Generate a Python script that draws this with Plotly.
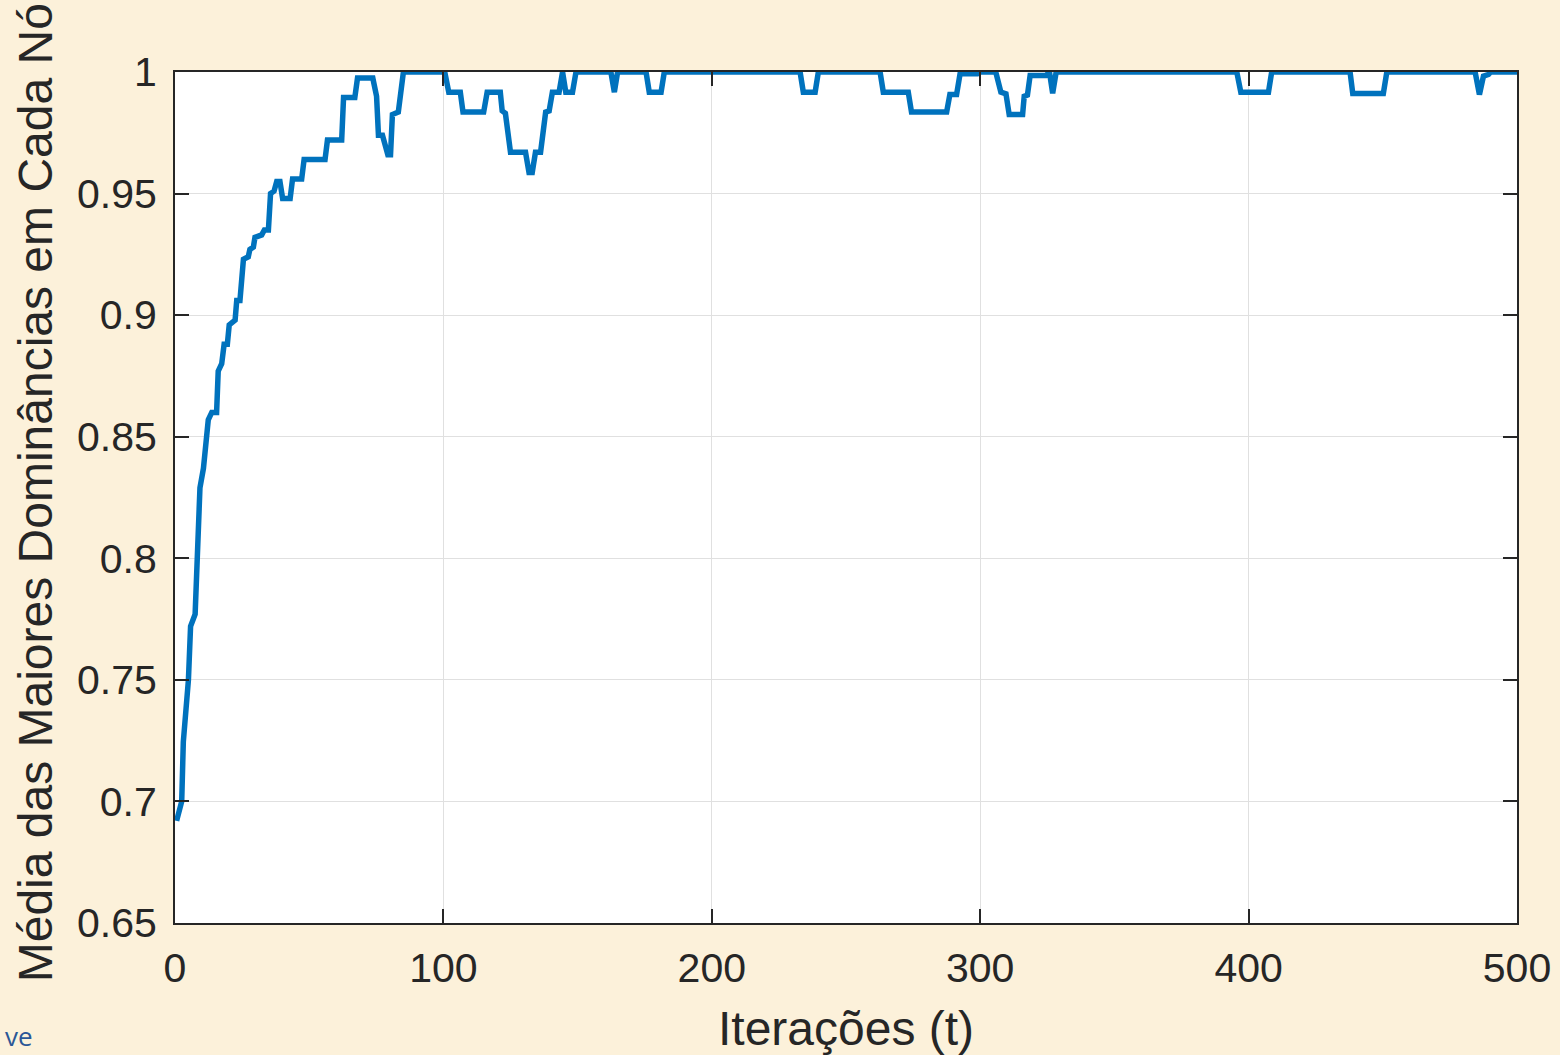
import plotly.graph_objects as go

# Breakpoints of the curve (iteration, value)
iteracoes = [0.6, 2.5, 3.1, 5.0, 5.8, 7.5, 9.3, 10.6, 12.4, 13.7, 15.5, 16.1, 17.4, 18.3, 19.5,
             20.2, 22.4, 23.0, 24.2, 25.5, 27.3, 27.9, 29.2, 29.8, 32.3, 33.3, 34.8, 35.6, 36.9,
             37.9, 39.1, 40.1, 42.9, 43.8, 47.2, 48.1, 55.9, 56.8, 62.1, 62.8, 67.0, 68.0, 73.7,
             75.1, 75.8, 77.3, 79.3, 80.3, 81.0, 83.2, 85.1, 98.8, 100.5, 102.0, 106.3, 107.3,
             115.0, 116.3, 121.2, 121.9, 123.1, 125.0, 130.6, 131.9, 133.1, 134.3, 136.2, 138.1,
             139.4, 140.6, 143.1, 144.4, 145.6, 148.1, 149.4, 162.4, 163.7, 164.9, 175.5, 176.7,
             181.1, 182.3, 232.9, 234.1, 238.5, 239.7, 262.7, 263.9, 273.2, 274.4, 287.5, 288.7,
             291.2, 292.5, 299.0, 300.0, 305.8, 307.7, 309.6, 310.8, 315.8, 316.4, 317.6, 318.6,
             324.5, 325.8, 327.0, 328.3, 395.6, 397.1, 407.4, 408.6, 437.8, 438.8, 450.2, 451.5,
             484.4, 486.0, 487.5, 489.4, 490.2, 500.0]
media = [0.692, 0.700, 0.7245, 0.750, 0.772, 0.777, 0.829, 0.837, 0.857, 0.860, 0.860, 0.877, 0.880,
         0.888, 0.888, 0.896, 0.898, 0.906, 0.906, 0.923, 0.924, 0.927, 0.928, 0.932, 0.933, 0.935,
         0.935, 0.950, 0.951, 0.955, 0.955, 0.948, 0.948, 0.956, 0.956, 0.964, 0.964, 0.972, 0.972,
         0.9895, 0.9895, 0.9975, 0.9975, 0.990, 0.974, 0.974, 0.966, 0.966, 0.9825, 0.9835, 1.0,
         1.0, 1.0, 0.9917, 0.9917, 0.9835, 0.9835, 0.9917, 0.9917, 0.9840, 0.9830, 0.967, 0.967,
         0.9587, 0.9587, 0.967, 0.967, 0.9835, 0.984, 0.9917, 0.9917, 1.0, 0.9917, 0.9917, 1.0,
         1.0, 0.9917, 1.0, 1.0, 0.9917, 0.9917, 1.0, 1.0, 0.9917, 0.9917, 1.0, 1.0, 0.9917,
         0.9917, 0.9835, 0.9835, 0.9907, 0.9907, 0.9993, 0.9993, 1.0, 1.0, 0.9917, 0.9910,
         0.9825, 0.9825, 0.9900, 0.9905, 0.9986, 0.9986, 1.0, 0.9912, 1.0, 1.0, 0.9917, 0.9917,
         1.0, 1.0, 0.9912, 0.9912, 1.0, 1.0, 0.9907, 0.9983, 0.9990, 1.0, 1.0]

x_ticks = [0, 100, 200, 300, 400, 500]
y_ticks = [0.65, 0.7, 0.75, 0.8, 0.85, 0.9, 0.95, 1.0]
y_tick_labels = ["0.65", "0.7", "0.75", "0.8", "0.85", "0.9", "0.95", "1"]

x_title = "Iterações (t)"
y_title = "Média das Maiores Dominâncias em Cada Nó"

FONT = "Arial, 'Liberation Sans', Helvetica, sans-serif"
AXIS_COLOR = "#262626"

fig = go.Figure()
fig.add_trace(go.Scatter(
    x=iteracoes, y=media, mode="lines",
    line=dict(color="#0072BD", width=5.5),
    showlegend=False, hoverinfo="skip",
))

common = dict(
    showline=True, linecolor=AXIS_COLOR, linewidth=2, mirror="ticks",
    ticks="inside", ticklen=14, tickwidth=1.5, tickcolor=AXIS_COLOR,
    showgrid=True, gridcolor="#E0E0E0", gridwidth=1,
    zeroline=False,
    tickfont=dict(family=FONT, size=41, color=AXIS_COLOR),
)

fig.update_xaxes(range=[0, 500], tickvals=x_ticks, ticklabelstandoff=8, **common)
fig.update_yaxes(range=[0.65, 1.0], tickvals=y_ticks, ticktext=y_tick_labels,
                 ticklabelstandoff=8, **common)

fig.add_annotation(text=x_title, xref="paper", yref="paper", x=0.5, y=-0.1234,
                   xanchor="center", yanchor="middle", showarrow=False,
                   font=dict(family=FONT, size=48, color=AXIS_COLOR))
fig.add_annotation(text=y_title, xref="paper", yref="paper", x=-0.1043, y=0.505,
                   xanchor="center", yanchor="middle", textangle=-90, showarrow=False,
                   font=dict(family=FONT, size=48, color=AXIS_COLOR))
fig.add_annotation(text="ve", xref="paper", yref="paper", x=-0.1275, y=-0.1328,
                   xanchor="left", yanchor="middle", showarrow=False, borderpad=0,
                   font=dict(family="'Open Sans', 'Noto Sans', sans-serif", size=26, color="#2B5797"))

fig.update_layout(
    width=1560, height=1055,
    margin=dict(l=175, r=43, t=72, b=132, autoexpand=False),
    paper_bgcolor="#FCF1DA",
    plot_bgcolor="#FFFFFF",
)

fig.write_html("out.html", config={"displayModeBar": False},
               post_script="document.body.style.margin='0';document.body.style.overflow='hidden';")
